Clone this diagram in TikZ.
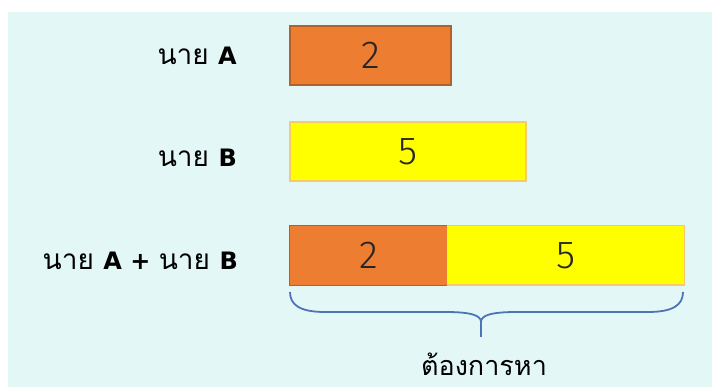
\documentclass[tikz,border=0pt]{standalone}
\usepackage{fontspec}
\setmainfont{Liberation Sans}
\newfontfamily\thaifont[Script=Thai]{Loma}
\newfontfamily\latinbold{DejaVu Sans}[UprightFont=* Bold]
\newfontfamily\numfont{Fira Sans Light}
\newcommand{\lat}[1]{{\latinbold\fontsize{24}{24}\selectfont #1}}
\definecolor{bgc}{HTML}{E3F7F6}
\definecolor{orangefill}{HTML}{ED7D31}
\definecolor{orangeedge}{HTML}{B3612B}
\definecolor{yellowfill}{HTML}{FFFF00}
\definecolor{yellowedge}{HTML}{F5C96C}
\definecolor{bracec}{HTML}{4E74B8}
\tikzset{
  bar/.style={minimum height=59pt, inner sep=0pt, font=\numfont\fontsize{39}{39}\selectfont, text=black!85},
  abar/.style={bar, fill=orangefill, draw=orangeedge, line width=1.2pt},
  bbar/.style={bar, fill=yellowfill, draw=yellowedge, line width=1.4pt},
  lbl/.style={anchor=base east, inner sep=0pt, font=\thaifont\fontsize{28}{28}\selectfont},
  bracestyle/.style={draw=bracec, line width=1.8pt},
}
\begin{document}
\begin{tikzpicture}[x=1pt,y=1pt]
\useasboundingbox (0,0) rectangle (712,387);
\fill[bgc] (8,0) rectangle (712,375);
% row A
\node[abar, minimum width=161pt] (boxA) at (370.5,331.5) {2};
\node[lbl] (labA) at (237,322) {นาย \lat{A}};
% row B
\node[bbar, minimum width=236pt] (boxB) at (408,235.5) {5};
\node[lbl] (labB) at (237,220) {นาย \lat{B}};
% combined
\node[bar, fill=orangefill, minimum width=157pt] (sumA) at (368.5,131.5) {2};
\node[bar, fill=yellowfill, minimum width=237pt] (sumB) at (565.5,131.5) {5};
\draw[orangeedge, line width=1.2pt] (sumA.north east) -- (sumA.north west) -- (sumA.south west) -- (sumA.south east);
\draw[yellowedge, line width=1.4pt] (sumB.north west) -- (sumB.north east) -- (sumB.south east) -- (sumB.south west);
\node[lbl] (labS) at (238,117) {นาย \lat{A + }นาย \lat{B}};
% brace
\coordinate (bl) at (290,95);
\coordinate (br) at (683,95);
\coordinate (tip) at (481,50);
\draw[bracestyle] (bl) .. controls (290,82) and (300,75) .. (325,75) -- (445,75)
  .. controls (470,75) and (481,72) .. (481,65) -- (tip);
\draw[bracestyle] (br) .. controls (683,82) and (673,75) .. (648,75) -- (517,75)
  .. controls (492,75) and (481,72) .. (481,65);
\node[font=\thaifont\fontsize{27}{27}\selectfont, anchor=base, inner sep=0pt] (want) at (484,11) {ต้องการหา};
\end{tikzpicture}
\end{document}
